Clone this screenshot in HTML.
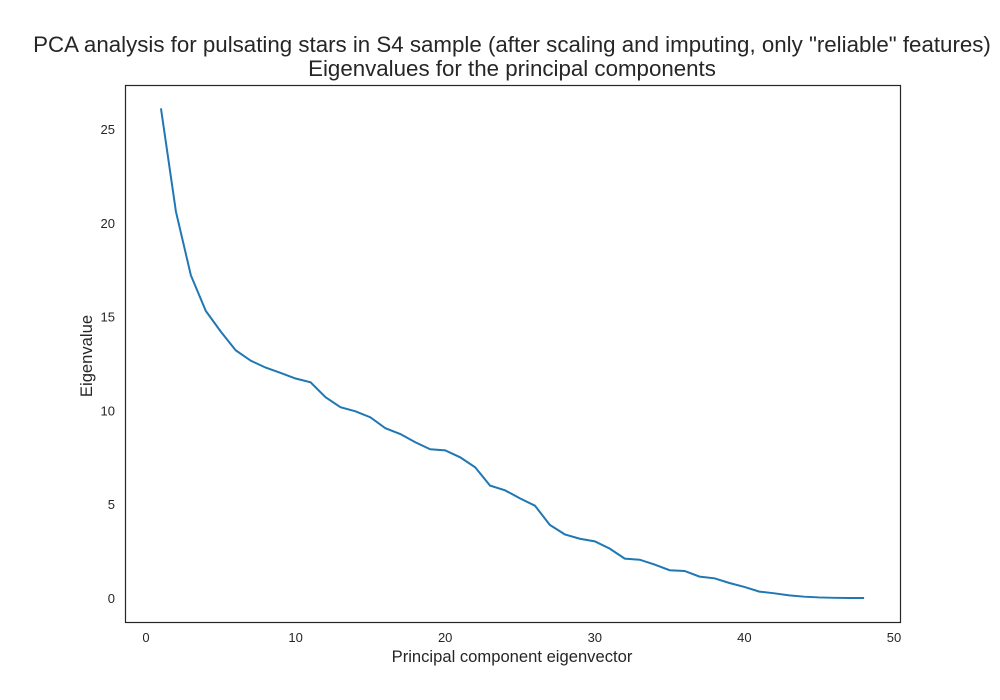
<!DOCTYPE html>
<html><head><meta charset="utf-8"><style>
body{margin:0;background:#fff;}
svg{display:block;font-family:"Liberation Sans",sans-serif;}
</style></head><body>
<svg id="chart" width="1000" height="700">
<text x="512" y="52" font-size="22.3" text-anchor="middle" fill="#262626">PCA analysis for pulsating stars in S4 sample (after scaling and imputing, only "reliable" features)</text>
<text x="512" y="76" font-size="22.3" text-anchor="middle" fill="#262626">Eigenvalues for the principal components</text>
<rect x="125.5" y="85.5" width="775" height="537" fill="none" stroke="#262626" stroke-width="1.2"/>
<g id="xticks"></g><g id="yticks"></g>
<path id="line" fill="none" stroke="#1f77b4" stroke-width="2"/>
<text x="512" y="662" font-size="16.6" text-anchor="middle" fill="#262626">Principal component eigenvector</text>
<text x="0" y="0" font-size="16.6" text-anchor="middle" fill="#262626" transform="translate(92,356) rotate(-90)">Eigenvalue</text>
</svg>
<script>
const components=[1,2,3,4,5,6,7,8,9,10,11,12,13,14,15,16,17,18,19,20,21,22,23,24,25,26,27,28,29,30,31,32,33,34,35,36,37,38,39,40,41,42,43,44,45,46,47,48];
const eigenvalues=[26.1,20.6,17.2,15.3,14.2,13.2,12.65,12.28,12.0,11.7,11.5,10.7,10.17,9.95,9.63,9.05,8.74,8.3,7.93,7.87,7.5,6.97,5.99,5.74,5.31,4.92,3.89,3.39,3.16,3.02,2.63,2.1,2.04,1.78,1.48,1.44,1.14,1.05,0.8,0.59,0.34,0.25,0.14,0.07,0.03,0.01,0,0];
const xTicks=[0,10,20,30,40,50];
const yTicks=[0,5,10,15,20,25];
const sx=v=>146+v*14.96;
const sy=v=>598-v*18.76;
const ns='http://www.w3.org/2000/svg';
const xg=document.getElementById('xticks'),yg=document.getElementById('yticks');
xTicks.forEach(t=>{const e=document.createElementNS(ns,'text');
e.setAttribute('x',sx(t));e.setAttribute('y',642);e.setAttribute('font-size','13');e.setAttribute('text-anchor','middle');e.setAttribute('fill','#262626');


e.textContent=t;xg.appendChild(e);});
yTicks.forEach(t=>{const e=document.createElementNS(ns,'text');
e.setAttribute('x',115);e.setAttribute('y',sy(t)+5);e.setAttribute('font-size','13');e.setAttribute('text-anchor','end');e.setAttribute('fill','#262626');


e.textContent=t;yg.appendChild(e);});
document.getElementById('line').setAttribute('d',components.map((c,i)=>(i?'L':'M')+sx(c)+','+sy(eigenvalues[i])).join(''));
</script>
</body></html>
